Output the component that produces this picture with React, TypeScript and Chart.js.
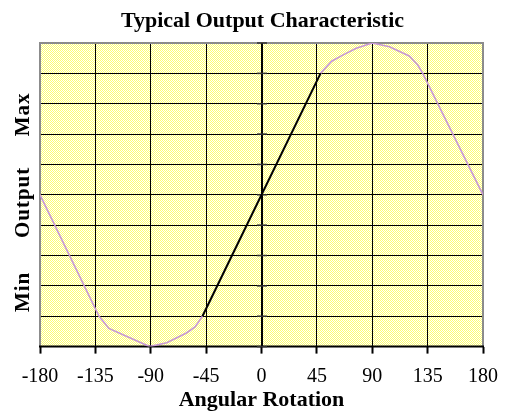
import React, { useEffect, useRef } from "react";
import { Chart, registerables } from "chart.js";

Chart.register(...registerables);

const chartTitle = "Typical Output Characteristic";
const xAxisTitle = "Angular Rotation";
const yAxisLabels = ["Min", "Output", "Max"];
const yAxisLabelValues = [-0.64, -0.05, 0.53];

const xTickValues = [-180, -135, -90, -45, 0, 45, 90, 135, 180];

const pinkLeftAngles = [-180, -132, -124, -113, -91, -77, -61, -54, -48];
const pinkLeftOutput = [0, -0.8, -0.88, -0.92, -1, -0.975, -0.91, -0.87, -0.8];

const linearAngles = [-48, 48];
const linearOutput = [-0.8, 0.8];

const pinkRightAngles = [48, 57, 66, 77, 90, 104, 120, 127, 131, 180];
const pinkRightOutput = [0.8, 0.88, 0.92, 0.965, 1, 0.975, 0.915, 0.855, 0.8, 0];

const toPoints = (xs: number[], ys: number[]) => xs.map((x, i) => ({ x, y: ys[i] }));

const FONT = "'Liberation Serif', 'Times New Roman', serif";

function makePattern(ctx: CanvasRenderingContext2D) {
  const c = document.createElement("canvas");
  c.width = 2;
  c.height = 2;
  const g = c.getContext("2d")!;
  g.fillStyle = "#ffffff";
  g.fillRect(0, 0, 2, 2);
  g.fillStyle = "#ffff70";
  g.fillRect(0, 0, 1, 1);
  g.fillRect(1, 1, 1, 1);
  return ctx.createPattern(c, "repeat");
}

const decorPlugin = {
  id: "decor",
  beforeDraw(chart: any) {
    const { ctx, chartArea } = chart;
    ctx.save();
    ctx.fillStyle = "#ffffff";
    ctx.fillRect(0, 0, chart.width, chart.height);
    const p = makePattern(ctx);
    if (p) ctx.fillStyle = p;
    ctx.fillRect(chartArea.left, chartArea.top, chartArea.right - chartArea.left, chartArea.bottom - chartArea.top);
    ctx.restore();
  },
  beforeDatasetsDraw(chart: any) {
    const { ctx, chartArea, scales } = chart;
    const xs = scales.x;
    const ys = scales.y;
    ctx.save();
    ctx.strokeStyle = "#8c8c8c";
    ctx.lineWidth = 2;
    ctx.beginPath();
    ctx.moveTo(chartArea.left, chartArea.bottom);
    ctx.lineTo(chartArea.left, chartArea.top);
    ctx.lineTo(chartArea.right, chartArea.top);
    ctx.lineTo(chartArea.right, chartArea.bottom);
    ctx.stroke();
    ctx.strokeStyle = "#000";
    ctx.lineWidth = 2;
    ctx.beginPath();
    ctx.moveTo(chartArea.left - 1, chartArea.bottom);
    ctx.lineTo(chartArea.right + 1, chartArea.bottom);
    ctx.stroke();
    const x0 = Math.round(xs.getPixelForValue(0));
    ctx.beginPath();
    ctx.moveTo(x0, chartArea.top);
    ctx.lineTo(x0, chartArea.bottom);
    ctx.stroke();
    ctx.strokeStyle = "#333";
    ctx.lineWidth = 1.5;
    ys.ticks.forEach((t: any) => {
      const y = ys.getPixelForValue(t.value);
      ctx.beginPath();
      ctx.moveTo(x0 - 5, y);
      ctx.lineTo(x0 + 5, y);
      ctx.stroke();
    });
    ctx.restore();
  },
  afterDraw(chart: any) {
    const { ctx, scales } = chart;
    const ys = scales.y;
    ctx.save();
    ctx.fillStyle = "#000";
    ctx.font = `bold 21px ${FONT}`;
    (ctx as any).letterSpacing = "1px";
    ctx.textAlign = "center";
    ctx.textBaseline = "middle";
    yAxisLabels.forEach((label, i) => {
      const y = ys.getPixelForValue(yAxisLabelValues[i]);
      ctx.save();
      ctx.translate(24, y);
      ctx.rotate(-Math.PI / 2);
      ctx.fillText(label, 0, 0);
      ctx.restore();
    });
    ctx.restore();
  },
};

export default function App() {
  const ref = useRef<HTMLCanvasElement>(null);
  useEffect(() => {
    if (!ref.current) return;
    const chart = new Chart(ref.current, {
      type: "scatter",
      data: {
        datasets: [
          {
            data: toPoints(pinkLeftAngles, pinkLeftOutput),
            showLine: true,
            borderColor: "#c899d4",
            borderWidth: 1.6,
            pointRadius: 0,
            tension: 0,
          },
          {
            data: toPoints(linearAngles, linearOutput),
            showLine: true,
            borderColor: "#000000",
            borderWidth: 2,
            pointRadius: 0,
            tension: 0,
          },
          {
            data: toPoints(pinkRightAngles, pinkRightOutput),
            showLine: true,
            borderColor: "#c899d4",
            borderWidth: 1.6,
            pointRadius: 0,
            tension: 0,
          },
        ],
      },
      options: {
        animation: false,
        responsive: false,
        devicePixelRatio: 1,
        layout: { padding: { left: 40, right: 24, top: 0, bottom: 0 } },
        plugins: {
          legend: { display: false },
          tooltip: { enabled: false },
          title: {
            display: true,
            text: chartTitle,
            color: "#000",
            font: { family: FONT, size: 22, weight: "bold" },
            padding: { top: 8, bottom: 8.6 },
          },
        },
        scales: {
          x: {
            type: "linear",
            min: -180,
            max: 180,
            afterBuildTicks: (axis: any) => {
              axis.ticks = xTickValues.map((v) => ({ value: v }));
            },
            ticks: {
              color: "#000",
              font: { family: FONT, size: 20 },
              padding: 11,
              maxRotation: 0,
              autoSkip: false,
            },
            grid: {
              color: "#000",
              lineWidth: 1,
              drawTicks: true,
              tickLength: 7,
              tickColor: "#000",
              tickWidth: 2,
            },
            border: { display: false },
            title: {
              display: true,
              text: xAxisTitle,
              color: "#000",
              font: { family: FONT, size: 22, weight: "bold" },
              padding: { top: -12, bottom: 0 },
            },
          },
          y: {
            type: "linear",
            min: -1,
            max: 1,
            ticks: { display: false, stepSize: 0.2 },
            grid: { color: "#000", lineWidth: 1, drawTicks: false },
            border: { display: false },
          },
        },
      },
      plugins: [decorPlugin],
    } as any);
    return () => chart.destroy();
  }, []);
  return (
    <div style={{ position: "fixed", left: 0, top: 0, width: 509, height: 414, background: "#fff" }}>
      <canvas ref={ref} width={509} height={414} style={{ display: "block" }} />
    </div>
  );
}
